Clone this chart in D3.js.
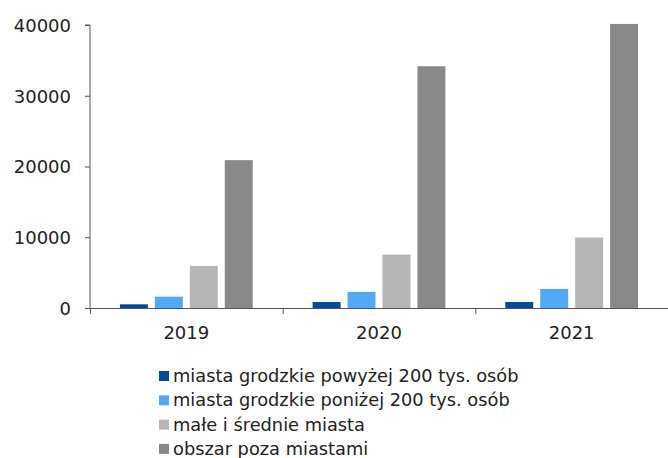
<!DOCTYPE html>
<html>
<head>
<meta charset="utf-8">
<script src="https://cdn.jsdelivr.net/npm/d3@7"></script>
<style>
  html, body { margin: 0; padding: 0; background: #fff; }
  svg { display: block; }
  text { font-family: "DejaVu Sans", sans-serif; fill: #222; }
</style>
</head>
<body>
<svg id="chart" width="668" height="458"></svg>
<script>
// Years on the category axis
const years = ["2019", "2020", "2021"];
// Series names (legend order)
const seriesNames = [
  "miasta grodzkie powyżej 200 tys. osób",
  "miasta grodzkie poniżej 200 tys. osób",
  "małe i średnie miasta",
  "obszar poza miastami"
];
const seriesColors = ["#004a98", "#52aaf7", "#b5b5b5", "#898989"];
// Values per series, one per year
const bigCities   = [520, 850, 850];
const smallCities = [1600, 2270, 2690];
const townAreas   = [5950, 7550, 9960];
const ruralAreas  = [20900, 34170, 40150];
const yTicks = [0, 10000, 20000, 30000, 40000];

const seriesValues = [bigCities, smallCities, townAreas, ruralAreas];

const svg = d3.select("#chart");
const margin = { left: 90, right: 0, top: 25 };
const W = 668;
const y0 = 308;

const x = d3.scaleBand().domain(years).range([margin.left, W]).padding(0);
const xs = d3.scaleBand().domain(d3.range(seriesNames.length))
  .range([0, x.bandwidth()]).paddingInner(0.2).paddingOuter(0.857);
const y = d3.scaleLinear().domain([0, 40000]).range([y0, margin.top]);

// bars
years.forEach((yr, i) => {
  const g = svg.append("g").attr("transform", `translate(${x(yr)},0)`);
  g.selectAll("rect")
    .data(seriesValues.map((vals, s) => ({ s, v: vals[i] })))
    .join("rect")
    .attr("x", d => xs(d.s))
    .attr("width", xs.bandwidth())
    .attr("y", d => y(d.v))
    .attr("height", d => y(0) - y(d.v))
    .attr("fill", d => seriesColors[d.s]);
});

// y axis
const yAxis = svg.append("g")
  .attr("transform", `translate(${margin.left},0)`)
  .call(d3.axisLeft(y).tickValues(yTicks).tickFormat(d3.format("d")).tickSize(5).tickPadding(14));
yAxis.select(".domain").attr("stroke", "#555").attr("d", `M-5,${y(40000)}H0V${y0}`);
yAxis.selectAll(".tick line").attr("stroke", "#555");
yAxis.selectAll("text").style("font-size", "18px").attr("fill", "#222").attr("dy", "0.36em");

// x axis: boundary ticks between years
const xAxis = svg.append("g");
xAxis.append("line").attr("x1", margin.left).attr("x2", W).attr("y1", y0 + 0.5).attr("y2", y0 + 0.5)
  .attr("stroke", "#555");
const bounds = years.map(d => x(d)).concat([W]);
xAxis.selectAll("line.tk").data(bounds).join("line").attr("class", "tk")
  .attr("x1", d => d + 0.5).attr("x2", d => d + 0.5)
  .attr("y1", y0).attr("y2", y0 + 6).attr("stroke", "#555");
xAxis.selectAll("text").data(years).join("text")
  .attr("x", d => x(d) + x.bandwidth() / 2)
  .attr("y", 339)
  .attr("text-anchor", "middle")
  .style("font-size", "18px")
  .text(d => d);

// legend
const legend = svg.append("g").attr("transform", "translate(159,0)");
seriesNames.forEach((name, i) => {
  const cy = 376 + i * 24.3;
  legend.append("rect").attr("x", 0).attr("y", cy - 5).attr("width", 10).attr("height", 10)
    .attr("fill", seriesColors[i]);
  legend.append("text").attr("x", 14).attr("y", cy).attr("dy", "0.34em")
    .style("font-size", "17.8px").text(name);
});
</script>
</body>
</html>
